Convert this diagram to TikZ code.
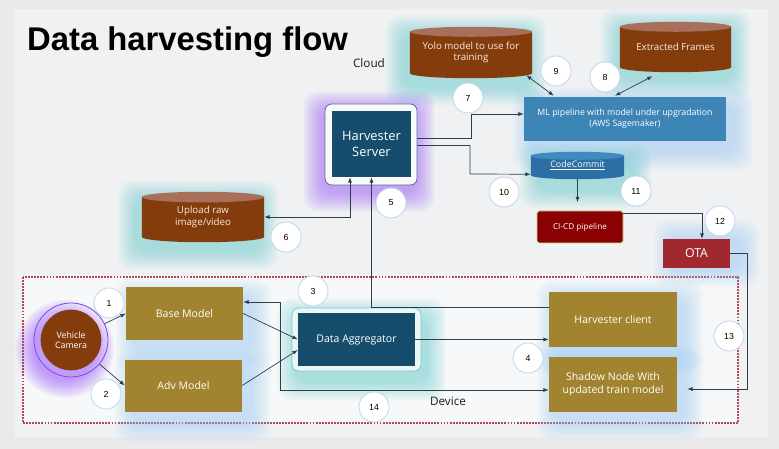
\documentclass[tikz,border=0pt]{standalone}
\usepackage{fontspec}
\setmainfont{Open Sans}
\newfontfamily\arialfont{Liberation Sans}
\usetikzlibrary{arrows.meta,calc}

\definecolor{outerbg}{HTML}{EAEAEA}
\definecolor{panelbg}{HTML}{F0F1F3}
\definecolor{devfill}{HTML}{F7F8F9}
\definecolor{devdash}{HTML}{B4475A}
\definecolor{cylbody}{HTML}{843C0C}
\definecolor{cyltop}{HTML}{A8705A}
\definecolor{cyltext}{HTML}{F6EBE2}
\definecolor{ccbody}{HTML}{2C6FA3}
\definecolor{cctop}{HTML}{408ABF}
\definecolor{mlblue}{HTML}{3D85B7}
\definecolor{srvblue}{HTML}{174D6C}
\definecolor{goldc}{HTML}{A2832F}
\definecolor{cicdred}{HTML}{8B0000}
\definecolor{cicdrim}{HTML}{C5DB9A}
\definecolor{otared}{HTML}{A2282F}
\definecolor{camred}{HTML}{843C0C}
\definecolor{camring}{HTML}{7B4FE0}
\definecolor{numring}{HTML}{BDD7EE}
\definecolor{linec}{HTML}{2F3E4C}
\definecolor{labelc}{HTML}{1A1A1A}
\definecolor{srvrim}{HTML}{52709E}
\definecolor{aggrim}{HTML}{7CC7CC}
\definecolor{glowteal}{HTML}{49C6C6}
\definecolor{glowblue}{HTML}{8CC6F4}
\definecolor{glowpurple}{HTML}{8B3DFF}

\pgfdeclarelayer{panel}
\pgfdeclarelayer{glow}
\pgfdeclarelayer{background}
\pgfsetlayers{panel,glow,background,main}

% soft halo behind a node: node, colour, x and y offset
\newcommand{\glowbox}[4]{%
  \begin{pgfonlayer}{glow}
    \foreach \k in {1,...,12}
      \fill[#2, opacity=0.045, rounded corners=4mm]
        ([shift={(#3-\k*1.6,#4-\k*1.6)}]#1.north west) rectangle
        ([shift={(#3+\k*1.6,#4+\k*1.6)}]#1.south east);
  \end{pgfonlayer}}

% database drum behind a node: node, body, top, half height of the ends
\newcommand{\dbcyl}[4]{%
  \begin{pgfonlayer}{background}
    \fill[#2] let \p1=(#1.north west), \p2=(#1.south east), \n1={(\x2-\x1)/2} in
      (\x1,\y1-#4) -- (\x1,\y2+#4)
      arc[start angle=180, end angle=360, x radius=\n1*1pt, y radius=#4]
      -- (\x2,\y1-#4) -- cycle;
    \fill[#3] let \p1=(#1.north west), \p2=(#1.south east), \n1={(\x2-\x1)/2} in
      ([yshift=-#4]#1.north) ellipse[x radius=\n1*1pt, y radius=#4];
  \end{pgfonlayer}}

\begin{document}
\begin{tikzpicture}[
    x=0.3mm, y=-0.3mm,
    font=\fontsize{9}{11}\selectfont,
    flow/.style={-{Latex[length=1.6mm,width=1.2mm]}, line width=0.6pt, draw=linec},
    flowboth/.style={flow, {Latex[length=1.6mm,width=1.2mm]}-{Latex[length=1.6mm,width=1.2mm]}},
    gbox/.style={rectangle, fill=goldc, text=white, align=center,
                 minimum width=35.1mm, minimum height=15.6mm},
    dbase/.style={rectangle, inner sep=1pt, align=center, text=cyltext,
                  font=\fontsize{8.3}{10}\selectfont},
    darkbox/.style={rectangle, fill=srvblue, text=white, align=center},
    ringbox/.style={rectangle, rounded corners=2mm, line width=0.7pt},
    num/.style={circle, draw=numring, fill=white, line width=0.7pt,
                minimum size=9mm, inner sep=0pt,
                font=\arialfont\fontsize{7.5}{9}\selectfont},
    lbl/.style={font=\fontsize{10}{12}\selectfont, text=labelc}
  ]
  \useasboundingbox (0,0) rectangle (779,449);
  \begin{pgfonlayer}{panel}
    \fill[outerbg] (0,0) rectangle (779,449);
    \fill[panelbg] (15,9) rectangle (768,437);
    \draw[devdash, fill=devfill, line width=0.9pt, dash pattern=on 1.6pt off 1pt]
      (23,277) rectangle (738,423);
  \end{pgfonlayer}

  \node[font=\arialfont\bfseries\fontsize{28}{32}\selectfont, anchor=base west,
        inner sep=0pt] (title) at (27,51) {Data harvesting flow};
  \node[lbl] (cloud)  at (369,63)  {Cloud};
  \node[lbl] (device) at (448,401) {Device};

  % cloud side
  \node[dbase, minimum width=36.6mm, minimum height=15.3mm] (yolo) at (471,52.5)
    {Yolo model to use for\\training};
  \node[dbase, minimum width=33.3mm, minimum height=15mm] (frames) at (675.5,47)
    {Extracted Frames};
  \node[dbase, minimum width=36.6mm, minimum height=15mm] (upload) at (203,217)
    {Upload raw\\image/video};
  \node[dbase, text=white, minimum width=27.9mm, minimum height=8.1mm,
        font=\fontsize{7.6}{9}\selectfont] (cc) at (577.5,165.5) {\underline{CodeCommit}};
  \node[rectangle, fill=mlblue, text=white, align=center, minimum width=60.6mm,
        minimum height=13.2mm, font=\fontsize{7.5}{9.5}\selectfont] (ml) at (625,119)
    {ML pipeline with model under upgradation\\(AWS Sagemaker)};
  \node[ringbox, draw=srvrim, fill=white!60!panelbg, minimum width=27.6mm,
        minimum height=24.3mm] (srvframe) at (371,144.5) {};
  \node[darkbox, minimum width=23.7mm, minimum height=19.8mm,
        font=\fontsize{11}{13.5}\selectfont] (srv) at (371.5,144) {Harvester\\Server};
  \node[rectangle, rounded corners=1.5pt, draw=cicdrim, line width=0.8pt, fill=cicdred,
        text=white, minimum width=25.8mm, minimum height=9.6mm,
        font=\fontsize{7}{8.5}\selectfont] (cicd) at (580,227) {CI-CD pipeline};
  \node[rectangle, fill=otared, text=white, minimum width=20.1mm, minimum height=8.7mm,
        font=\fontsize{10.5}{12}\selectfont] (ota) at (696.5,253.5) {OTA};

  % device side
  \node[circle, draw=camring, line width=0.7pt, minimum size=22.2mm, inner sep=0pt,
        text=white, align=center, font=\fontsize{7.5}{9}\selectfont,
        path picture={\fill[camred] (path picture bounding box.center) circle[radius=9.1mm];}]
    (cam) at (71,340) {Vehicle\\Camera};
  \node[gbox] (base) at (184.5,313.5) {Base Model};
  \node[gbox] (adv)  at (183.5,385.5) {Adv Model};
  \node[ringbox, draw=aggrim, fill=aggrim!15!white, minimum width=38.7mm,
        minimum height=18.9mm] (aggframe) at (356.5,339.5) {};
  \node[darkbox, minimum width=35.1mm, minimum height=15.9mm] (agg) at (356.5,339.5)
    {Data Aggregator};
  \node[gbox, minimum width=38.4mm, minimum height=16.5mm] (hclient) at (613,319.5)
    {Harvester client};
  \node[gbox, minimum width=38.4mm, minimum height=16.5mm] (shadow) at (613,384.5)
    {Shadow Node With\\updated train model};

  \foreach \nd/\col/\dx/\dy in {yolo/glowteal/-5/8, frames/glowteal/0/7,
      upload/glowteal/-5/8, cc/glowteal/8/10, ml/glowblue/8/10,
      srvframe/glowpurple/-2/7, base/glowblue/9/11, adv/glowblue/9/11,
      hclient/glowblue/7/8, shadow/glowblue/7/8, aggframe/glowteal/5/10,
      ota/glowblue/10/0}
    \glowbox{\nd}{\col}{\dx}{\dy};
  \begin{pgfonlayer}{glow}
    \foreach \k in {1,...,12}
      \fill[glowpurple, opacity=0.05] ([shift={(-6,9)}]cam.center)
        circle[radius={(30+\k*1.6)*0.3mm}];
  \end{pgfonlayer}
  \dbcyl{yolo}{cylbody}{cyltop}{1.5mm}
  \dbcyl{frames}{cylbody}{cyltop}{1.5mm}
  \dbcyl{upload}{cylbody}{cyltop}{1.6mm}
  \dbcyl{cc}{ccbody}{cctop}{1.2mm}

  % steps
  \node[num] (n1)  at (109,303) {1};
  \node[num] (n2)  at (106,394) {2};
  \node[num] (n3)  at (313,291) {3};
  \node[num] (n4)  at (528,358) {4};
  \node[num] (n5)  at (391,203) {5};
  \node[num] (n6)  at (286,237) {6};
  \node[num] (n7)  at (468,98)  {7};
  \node[num] (n8)  at (605,77)  {8};
  \node[num] (n9)  at (556,71)  {9};
  \node[num] (n10) at (504,192) {10};
  \node[num] (n11) at (636,191) {11};
  \node[num] (n12) at (720,221) {12};
  \node[num] (n13) at (729,336) {13};
  \node[num] (n14) at (374,407) {14};

  % connectors
  \draw[flow] (cam) -- (base.west);
  \draw[flow] (cam) -- (adv.west);
  \draw[flow] (base.east) -- (agg.west);
  \draw[flow] (adv.east) -- ([shift={(0,10.5)}]agg.west);
  \draw[flow] (agg.east) -- (agg.east -| hclient.west);
  \draw[flowboth] ([shift={(0,-11.5)}]base.east) -| (280,390)
    -- ([shift={(0,5.5)}]shadow.west);
  \draw[flow] ([shift={(0,-12.5)}]hclient.west) -| (srv.south);
  \draw[flowboth] ([xshift=-6.45mm]srv.south) |- (upload.east);
  \draw[flow] ([shift={(0,-6)}]srvframe.east) -| (471,114)
    -- ([shift={(0,-5)}]ml.west);
  \draw[flow] ([shift={(0,1)}]srvframe.east) -| (470,174)
    -- ([shift={(0,-5)}]cc.south west);
  \draw[flow, shorten >=2.5mm] (cc.south) -- (cc.south |- cicd.north);
  \draw[flow] ([shift={(0,3)}]cicd.north east) -| ([shift={(5.5,0)}]ota.north);
  \draw[flow] (ota.east) -| (747,389) -- ([shift={(10,4.5)}]shadow.east);
  \draw[flowboth] ([shift={(-6,-3)}]yolo.south east) -- ([shift={(30,-1)}]ml.north west);
  \draw[flowboth] ([shift={(-23,4)}]frames.south) -- ([shift={(-10,-1)}]ml.north);
\end{tikzpicture}
\end{document}
